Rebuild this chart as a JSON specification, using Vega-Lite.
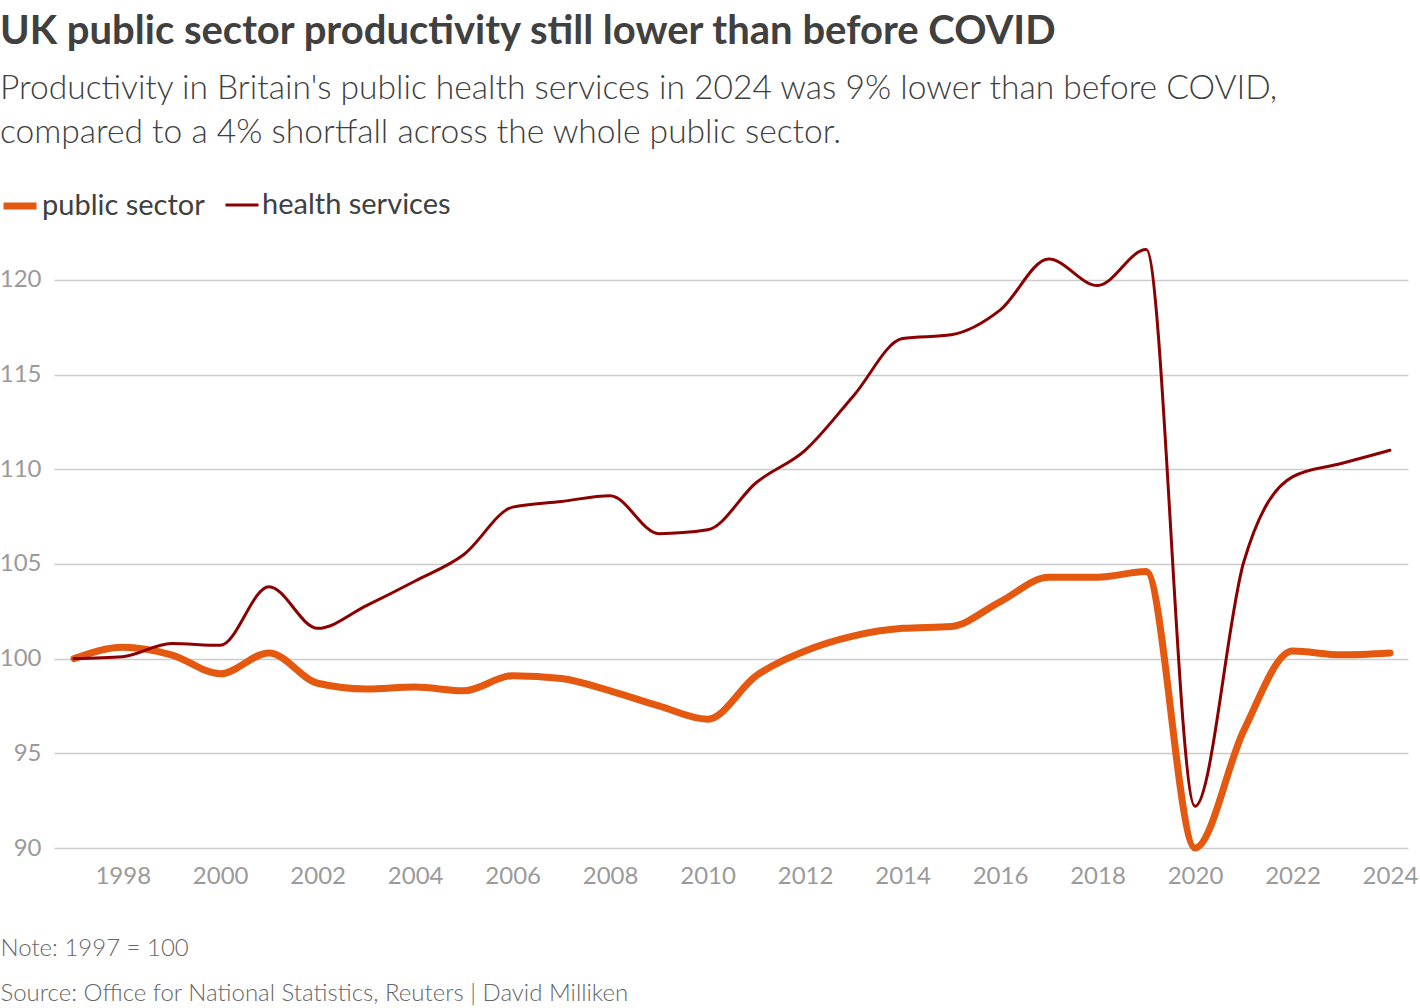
{
  "$schema": "https://vega.github.io/schema/vega-lite/v6.json",
  "width": 1354,
  "height": 606,
  "autosize": {"type": "none"},
  "padding": {"left": 54, "top": 242, "right": 12, "bottom": 160},
  "background": "white",
  "config": {
    "font": "Lato",
    "view": {"stroke": null},
    "axis": {"labelFont": "Lato", "labelColor": "#9a9a9a", "labelFontSize": 24, "grid": false, "domain": false, "ticks": false},
    "legend": {"labelFont": "Lato", "labelFontSize": 29, "labelColor": "#404040", "labelLimit": 400}
  },
  "title": {
    "text": "UK public sector productivity still lower than before COVID",
    "subtitle": ["Productivity in Britain's public health services in 2024 was 9% lower than before COVID,", "compared to a 4% shortfall across the whole public sector."],
    "anchor": "start",
    "frame": "group",
    "dx": -54,
    "offset": 36,
    "font": "Lato",
    "fontSize": 40,
    "fontWeight": "bold",
    "color": "#404040",
    "subtitleFont": "Lato",
    "subtitleFontSize": 33.6,
    "subtitleFontWeight": 300,
    "subtitleColor": "#404040",
    "subtitleLineHeight": 44,
    "subtitlePadding": 20
  },
  "data": {
    "values": [
      {"year": 1997, "series": "public sector", "value": 100.0},
      {"year": 1998, "series": "public sector", "value": 100.6},
      {"year": 1999, "series": "public sector", "value": 100.2},
      {"year": 2000, "series": "public sector", "value": 99.2},
      {"year": 2001, "series": "public sector", "value": 100.3},
      {"year": 2002, "series": "public sector", "value": 98.7},
      {"year": 2003, "series": "public sector", "value": 98.4},
      {"year": 2004, "series": "public sector", "value": 98.5},
      {"year": 2005, "series": "public sector", "value": 98.3},
      {"year": 2006, "series": "public sector", "value": 99.1},
      {"year": 2007, "series": "public sector", "value": 98.95},
      {"year": 2008, "series": "public sector", "value": 98.3},
      {"year": 2009, "series": "public sector", "value": 97.5},
      {"year": 2010, "series": "public sector", "value": 96.8},
      {"year": 2011, "series": "public sector", "value": 99.1},
      {"year": 2012, "series": "public sector", "value": 100.4},
      {"year": 2013, "series": "public sector", "value": 101.2},
      {"year": 2014, "series": "public sector", "value": 101.6},
      {"year": 2015, "series": "public sector", "value": 101.7},
      {"year": 2016, "series": "public sector", "value": 103.0},
      {"year": 2017, "series": "public sector", "value": 104.3},
      {"year": 2018, "series": "public sector", "value": 104.3},
      {"year": 2019, "series": "public sector", "value": 104.6},
      {"year": 2020, "series": "public sector", "value": 90.0},
      {"year": 2021, "series": "public sector", "value": 96.2},
      {"year": 2022, "series": "public sector", "value": 100.4},
      {"year": 2023, "series": "public sector", "value": 100.2},
      {"year": 2024, "series": "public sector", "value": 100.3},
      {"year": 1997, "series": "health services", "value": 100.0},
      {"year": 1998, "series": "health services", "value": 100.1},
      {"year": 1999, "series": "health services", "value": 100.8},
      {"year": 2000, "series": "health services", "value": 100.7},
      {"year": 2001, "series": "health services", "value": 103.8},
      {"year": 2002, "series": "health services", "value": 101.6},
      {"year": 2003, "series": "health services", "value": 102.8},
      {"year": 2004, "series": "health services", "value": 104.1},
      {"year": 2005, "series": "health services", "value": 105.5},
      {"year": 2006, "series": "health services", "value": 108.0},
      {"year": 2007, "series": "health services", "value": 108.3},
      {"year": 2008, "series": "health services", "value": 108.6},
      {"year": 2009, "series": "health services", "value": 106.6},
      {"year": 2010, "series": "health services", "value": 106.8},
      {"year": 2011, "series": "health services", "value": 109.3},
      {"year": 2012, "series": "health services", "value": 111.0},
      {"year": 2013, "series": "health services", "value": 113.9},
      {"year": 2014, "series": "health services", "value": 116.9},
      {"year": 2015, "series": "health services", "value": 117.1},
      {"year": 2016, "series": "health services", "value": 118.4},
      {"year": 2017, "series": "health services", "value": 121.1},
      {"year": 2018, "series": "health services", "value": 119.7},
      {"year": 2019, "series": "health services", "value": 121.6},
      {"year": 2020, "series": "health services", "value": 92.2},
      {"year": 2021, "series": "health services", "value": 105.1},
      {"year": 2022, "series": "health services", "value": 109.6},
      {"year": 2023, "series": "health services", "value": 110.3},
      {"year": 2024, "series": "health services", "value": 111.0}
    ]
  },
  "encoding": {
    "x": {
      "field": "year",
      "type": "quantitative",
      "scale": {"domain": [1996.59, 2024.37], "nice": false, "zero": false},
      "axis": {
        "values": [1998, 2000, 2002, 2004, 2006, 2008, 2010, 2012, 2014, 2016, 2018, 2020, 2022, 2024],
        "format": "d",
        "labelPadding": 16,
        "title": ["Note: 1997 = 100", "Source: Office for National Statistics, Reuters | David Milliken"],
        "titleFont": "Lato",
        "titleFontSize": 24,
        "titleFontWeight": 300,
        "titleColor": "#666666",
        "titleAlign": "left",
        "titleAnchor": "start",
        "titleBaseline": "alphabetic",
        "titleX": -54,
        "titleY": 107,
        "titleLineHeight": 45
      }
    },
    "y": {
      "field": "value",
      "type": "quantitative",
      "scale": {"domain": [90, 122], "nice": false, "zero": false},
      "axis": {
        "values": [90, 95, 100, 105, 110, 115, 120],
        "grid": true,
        "gridColor": "#cccccc",
        "gridWidth": 1.5,
        "labelPadding": 13,
        "title": null
      }
    },
    "color": {
      "field": "series",
      "type": "nominal",
      "scale": {"domain": ["public sector", "health services"], "range": ["#e4580f", "#8b0000"]},
      "legend": {
        "title": null,
        "orient": "none",
        "direction": "horizontal",
        "legendX": -54,
        "legendY": -56,
        "symbolType": "stroke",
        "symbolSize": 1089,
        "labelOffset": 2,
        "columnPadding": 14
      }
    },
    "strokeWidth": {
      "field": "series",
      "type": "nominal",
      "scale": {"domain": ["public sector", "health services"], "range": [7, 3]},
      "legend": null
    }
  },
  "layer": [
    {
      "transform": [{"filter": "datum.series === 'public sector'"}],
      "mark": {"type": "line", "interpolate": "monotone", "strokeCap": "round", "strokeJoin": "round"}
    },
    {
      "transform": [{"filter": "datum.series === 'health services'"}],
      "mark": {"type": "line", "interpolate": "monotone", "strokeCap": "round", "strokeJoin": "round"}
    }
  ]
}
